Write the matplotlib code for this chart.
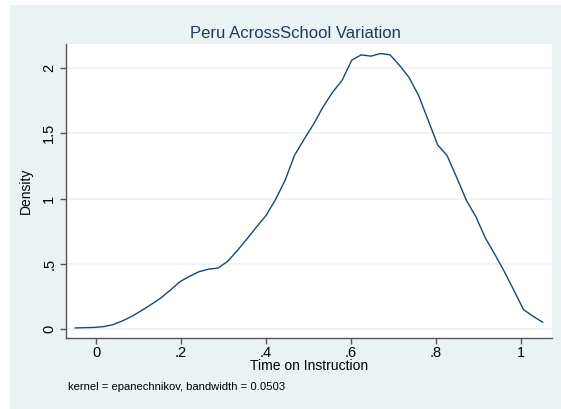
import matplotlib
matplotlib.use('Agg')
import matplotlib.pyplot as plt
from matplotlib.patches import Rectangle

plt.rcParams['font.family'] = ['Liberation Sans', 'DejaVu Sans']

# kernel density estimate (50 evaluation points)
time_on_instruction = [-0.049, -0.027, -0.004, 0.018, 0.040, 0.063, 0.085, 0.108, 0.130, 0.153,
                       0.175, 0.198, 0.220, 0.242, 0.265, 0.287, 0.310, 0.332, 0.355, 0.377,
                       0.400, 0.422, 0.445, 0.467, 0.489, 0.512, 0.534, 0.557, 0.579, 0.602,
                       0.624, 0.647, 0.669, 0.692, 0.714, 0.736, 0.759, 0.781, 0.804, 0.826,
                       0.849, 0.871, 0.894, 0.916, 0.939, 0.961, 0.983, 1.006, 1.028, 1.051]
density = [0.010, 0.012, 0.014, 0.020, 0.035, 0.065, 0.100, 0.145, 0.190, 0.240,
           0.300, 0.365, 0.405, 0.440, 0.460, 0.468, 0.520, 0.600, 0.690, 0.780,
           0.870, 0.990, 1.140, 1.330, 1.450, 1.570, 1.700, 1.815, 1.905, 2.060,
           2.100, 2.090, 2.110, 2.100, 2.020, 1.930, 1.790, 1.605, 1.410, 1.330,
           1.160, 0.990, 0.860, 0.700, 0.570, 0.440, 0.300, 0.150, 0.100, 0.054]

x_ticks = [0, 0.2, 0.4, 0.6, 0.8, 1.0]
x_tick_labels = ['0', '.2', '.4', '.6', '.8', '1']
y_ticks = [0, 0.5, 1.0, 1.5, 2.0]
y_tick_labels = ['0', '.5', '1', '1.5', '2']

W, H = 561, 409
bg = '#eaf2f3'
navy = '#1a476f'

fig = plt.figure(figsize=(W / 100, H / 100), dpi=100, facecolor='white')
fig.patches.append(Rectangle((10 / W, 0), (W - 10) / W, (H - 5) / H,
                             transform=fig.transFigure, facecolor=bg, edgecolor='none', zorder=-5))

ax = fig.add_axes([66 / W, (H - 338) / H, (552 - 66) / W, (338 - 44) / H])
ax.set_zorder(2)
ax.set_facecolor('white')
ax.plot(time_on_instruction, density, color=navy, lw=1.0, zorder=3)

ax.set_xlim(-0.0706, 1.073)
ax.set_ylim(-0.067, 2.183)
ax.set_xticks(x_ticks)
ax.set_xticklabels(x_tick_labels)
ax.set_yticks(y_ticks)
ax.set_yticklabels(y_tick_labels, rotation=90, va='center')
ax.grid(axis='y', color=bg, lw=1.2)
ax.set_axisbelow(True)

for s in ['top', 'right']:
    ax.spines[s].set_visible(False)
for s in ['left', 'bottom']:
    ax.spines[s].set_color('#555555')
    ax.spines[s].set_linewidth(1.0)
ax.tick_params(axis='both', colors='#555555', labelcolor='black', length=4, width=1.0,
               labelsize=10.5)
ax.tick_params(axis='x', pad=2)
ax.tick_params(axis='y', pad=3)

ax.set_xlabel('Time on Instruction', fontsize=10, labelpad=-1)
ax.set_ylabel('Density', fontsize=10, labelpad=7)

fig.text(295 / W, 1 - 34 / H, 'Peru AcrossSchool Variation', ha='center', va='center',
         fontsize=12, color='#1e3a5f')
fig.text(68 / W, 1 - 387 / H, 'kernel = epanechnikov, bandwidth = 0.0503', ha='left',
         va='center', fontsize=8.1, color='black')

fig.savefig('out.png', dpi=100, facecolor=fig.get_facecolor())
